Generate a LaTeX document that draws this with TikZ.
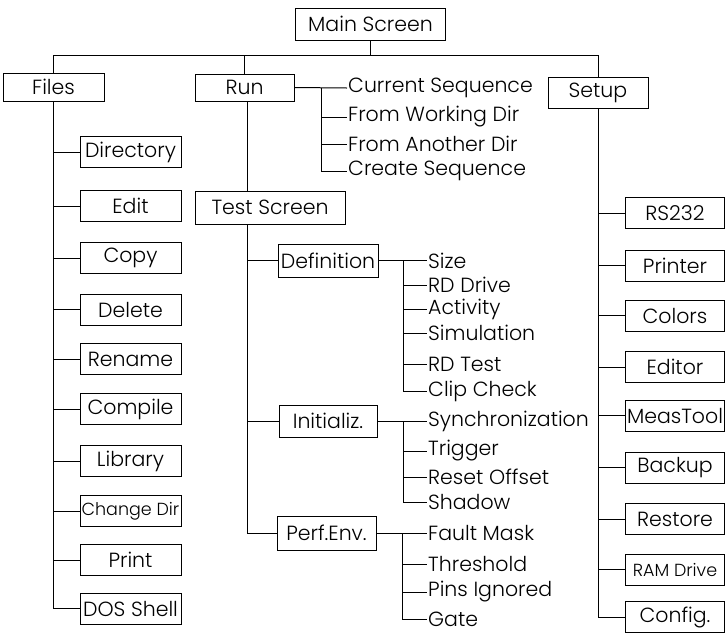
\documentclass[tikz,border=0pt]{standalone}
\usepackage{fontspec}
\setmainfont{Poppins}[UprightFont=* Light]
\usepackage{tikz}
\usetikzlibrary{calc,positioning}
\newcommand{\mfont}{\fontsize{20.5}{22}\selectfont}
\newcommand{\msmall}{\fontsize{17.5}{19}\selectfont}
\tikzset{
  mline/.style={draw=black, line width=1pt},
  mbox/.style={rectangle, draw=black, line width=1pt, fill=white,
               minimum width=100pt, minimum height=31pt, inner sep=1pt,
               font=\mfont},
  mwide/.style={mbox, minimum width=150pt, minimum height=33pt},
  mitem/.style={anchor=west, inner sep=1pt, font=\mfont},
}

\begin{document}
\begin{tikzpicture}[x=1pt,y=-1pt]
  \useasboundingbox (0,0) rectangle (726,633);

  % ---- top level ----
  \node[mwide, minimum height=32pt] (main) at (370.5,24) {Main Screen};
  \node[mbox, minimum width=101pt, minimum height=28pt] (files) at (53.5,87) {Files};
  \node[mbox, minimum width=99pt, minimum height=27pt] (run) at (244.5,87.5) {Run};
  \node[mbox] (setup) at (598,92.5) {Setup};
  \draw[mline] (main.south) -- ++(0,15) coordinate (bus);
  \draw[mline] (files.north) |- (bus) -| (setup.north);
  \draw[mline] (run.north) -- (run.north |- bus);

  % ---- Files ----
  \node[mbox, minimum width=101pt] (dir)  at (130.5,152)   {Directory};
  \node[mbox, minimum width=101pt] (edit) at (130.5,206)   {Edit};
  \node[mbox, minimum width=101pt] (copy) at (130.5,258)   {Copy};
  \node[mbox, minimum width=101pt] (del)  at (130.5,309.5) {Delete};
  \node[mbox, minimum width=101pt] (ren)  at (130.5,359)   {Rename};
  \node[mbox, minimum width=101pt] (comp) at (130.5,409)   {Compile};
  \node[mbox, minimum width=101pt] (lib)  at (130.5,461)   {Library};
  \node[mbox, minimum width=101pt, font=\msmall] (cdir) at (130.5,511) {Change Dir};
  \node[mbox, minimum width=101pt] (prn)  at (130.5,560)   {Print};
  \node[mbox, minimum width=101pt] (dos)  at (130.5,608.5) {DOS Shell};
  \foreach \c in {dir,edit,copy,del,ren,comp,lib,cdir,prn,dos}
    \draw[mline] (files.south) |- (\c.west);

  % ---- Run ----
  \coordinate (rj) at (321,88);
  \node[mitem] (cur) at (347,88)  {Current Sequence};
  \node[mitem] (wrk) at (347,117) {From Working Dir};
  \node[mitem] (oth) at (347,144) {From Another Dir};
  \node[mitem] (cre) at (347,171) {Create Sequence};
  \draw[mline] (run.east) -- (cur.west);
  \foreach \c in {wrk,oth,cre}
    \draw[mline] (rj) |- (\c.west);

  % ---- Test Screen ----
  \node[mwide] (test) at (270,207.5) {Test Screen};
  \draw[mline] (run.south -| 247,0) -- (test.north -| 247,0);
  \node[mbox, minimum height=33pt] (def)  at (328,260.5) {Definition};
  \node[mbox, minimum width=98pt, minimum height=32pt] (init) at (328,421) {Initializ.};
  \node[mbox, minimum width=99pt, minimum height=34pt] (perf) at (326.5,533) {Perf.Env.};
  \foreach \c in {def,init,perf}
    \draw[mline] (test.south -| 247,0) |- (\c.west);

  % definition
  \coordinate (dj) at (403,260.5);
  \node[mitem] (size) at (427,260.5) {Size};
  \node[mitem] (rdd)  at (427,285)   {RD Drive};
  \node[mitem] (act)  at (427,309)   {Activity};
  \node[mitem] (sim)  at (427,333)   {Simulation};
  \node[mitem] (rdt)  at (427,364)   {RD Test};
  \node[mitem] (clip) at (427,391)   {Clip Check};
  \draw[mline] (def.east) -- (size.west);
  \foreach \c in {rdd,act,sim,rdt,clip}
    \draw[mline] (dj) |- (\c.west);

  % initialization
  \coordinate (ij) at (403,421);
  \node[mitem] (sync) at (427,421) {Synchronization};
  \node[mitem] (trig) at (427,451) {Trigger};
  \node[mitem] (rst)  at (427,477) {Reset Offset};
  \node[mitem] (shd)  at (427,502) {Shadow};
  \draw[mline] (init.east) -- (sync.west);
  \foreach \c in {trig,rst,shd}
    \draw[mline] (ij) |- (\c.west);

  % performance environment
  \coordinate (pj) at (402,533);
  \node[mitem] (flt) at (427,533) {Fault Mask};
  \node[mitem] (thr) at (427,564) {Threshold};
  \node[mitem] (pin) at (427,592) {Pins Ignored};
  \node[mitem] (gat) at (427,619) {Gate};
  \draw[mline] (perf.east) -- (flt.west);
  \foreach \c in {thr,pin,gat}
    \draw[mline] (pj) |- (\c.west);

  % ---- Setup ----
  \node[mbox, minimum width=99pt] (rs)   at (675,213)   {RS232};
  \node[mbox, minimum width=99pt] (ptr)  at (675,265.5) {Printer};
  \node[mbox, minimum width=99pt] (col)  at (675,315.5) {Colors};
  \node[mbox, minimum width=99pt] (edt)  at (675,367)   {Editor};
  \node[mbox, minimum width=99pt] (meas) at (675,415.5) {MeasTool};
  \node[mbox, minimum width=99pt] (bak)  at (675,467.5) {Backup};
  \node[mbox, minimum width=99pt] (rest) at (675,519)   {Restore};
  \node[mbox, minimum width=99pt, font=\msmall] (ram) at (675,569.5) {RAM Drive};
  \node[mbox, minimum width=99pt] (cfg)  at (675,617)   {Config.};
  \foreach \c in {rs,ptr,col,edt,meas,bak,rest,ram,cfg}
    \draw[mline] (setup.south) |- (\c.west);

\end{tikzpicture}
\end{document}
